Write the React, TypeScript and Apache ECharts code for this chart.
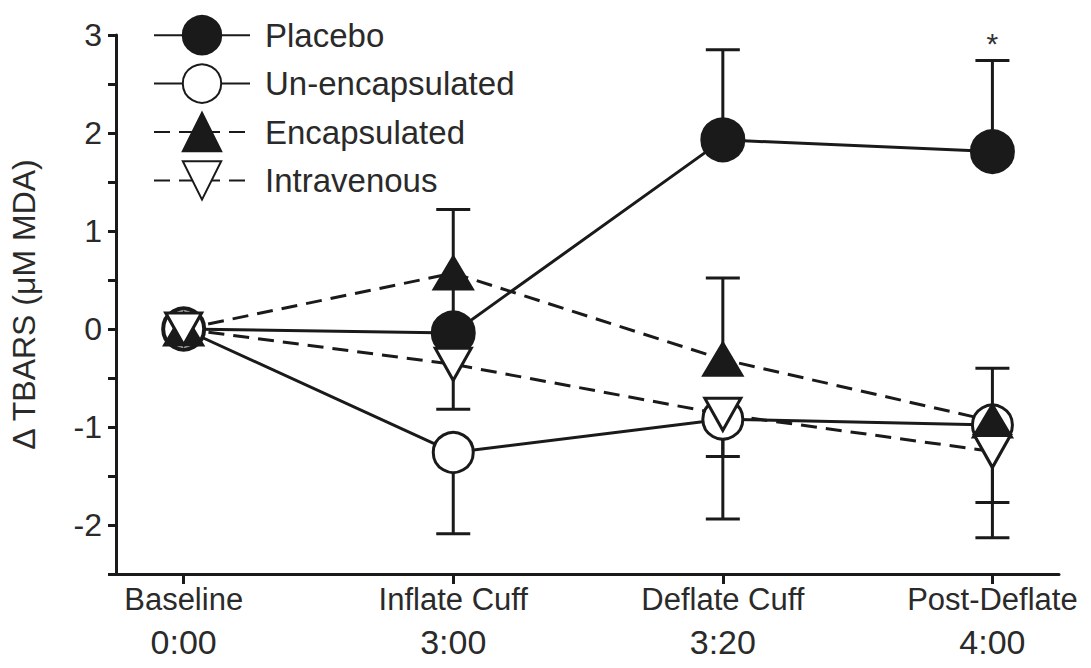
import { useEffect, useRef } from 'react';
import * as echarts from 'echarts';

const xPositions = [0, 1, 2, 3];
const xNames = ['Baseline', 'Inflate Cuff', 'Deflate Cuff', 'Post-Deflate'];
const xTimes = ['0:00', '3:00', '3:20', '4:00'];
const yLabelTicks = [-2, -1, 0, 1, 2, 3];
const seriesNames = ['Placebo', 'Un-encapsulated', 'Encapsulated', 'Intravenous'];

const placebo = [0, -0.04, 1.93, 1.81];
const unencapsulated = [0, -1.26, -0.92, -0.98];
const encapsulated = [0, 0.57, -0.31, -0.94];
const intravenous = [0, -0.36, -0.87, -1.25];

// error bar lengths (direction: +1 up, -1 down)
const placeboErr = [0, 1.26, 0.92, 0.93];
const unencapsulatedErr = [0, 0.83, 1.02, 1.15];
const encapsulatedErr = [0, 0, 0.83, 0.54];
const intravenousErr = [0, 0.46, 0.43, 0.52];
const errDirections = [1, -1, 1, -1];
const placeboSignificance = ['', '', '', '*'];

const INK = '#1a1a1a';
const TEXT = '#2a2a2a';
const FONT = 'Liberation Sans, Arial, Helvetica, sans-serif';

export default function App() {
  const ref = useRef<HTMLDivElement>(null);
  useEffect(() => {
    document.body.style.margin = '0';
    if (!ref.current) return;
    const chart = echarts.init(ref.current, null, { renderer: 'svg' });
    const values = [placebo, unencapsulated, encapsulated, intravenous];
    const errs = [placeboErr, unencapsulatedErr, encapsulatedErr, intravenousErr];
    const symbols = ['circle', 'circle', 'triangle', 'triangle'];
    const sizes: any[] = [42, 40, [38, 32], [36, 32]];
    const rotates = [0, 0, 0, 180];
    const fills = [INK, '#ffffff', INK, '#ffffff'];
    const dashed = [false, false, true, true];

    const errSeries = values.map((vals, si) => ({
      type: 'custom',
      z: 1,
      silent: true,
      data: xPositions.map((x, i) => [x, vals[i], errs[si][i], errDirections[si]]),
      encode: { x: 0, y: 1 },
      renderItem: (params: any, api: any) => {
        const x = api.value(0);
        const y = api.value(1);
        const e = api.value(2);
        const dir = api.value(3);
        const children: any[] = [];
        if (e > 0) {
          const p0 = api.coord([x, y]);
          const p1 = api.coord([x, y + dir * e]);
          const st = { stroke: INK, lineWidth: 3 };
          children.push({ type: 'line', shape: { x1: p0[0], y1: p0[1], x2: p1[0], y2: p1[1] }, style: st });
          children.push({ type: 'line', shape: { x1: p1[0] - 17, y1: p1[1], x2: p1[0] + 17, y2: p1[1] }, style: st });
          if (si === 0 && placeboSignificance[params.dataIndex]) {
            children.push({
              type: 'text',
              x: p1[0],
              y: p1[1] - 2,
              style: {
                text: placeboSignificance[params.dataIndex],
                fontSize: 30,
                fontFamily: FONT,
                fill: '#333',
                align: 'center',
                verticalAlign: 'bottom',
              },
            });
          }
        }
        return { type: 'group', children };
      },
    }));

    const lineSeries = values.map((vals, si) => ({
      name: seriesNames[si],
      type: 'line',
      z: 3,
      data: xPositions.map((x, i) => [x, vals[i]]),
      symbol: symbols[si],
      symbolSize: sizes[si],
      symbolRotate: rotates[si],
      showAllSymbol: true,
      lineStyle: { color: INK, width: 3, type: dashed[si] ? [16, 9] : 'solid' },
      itemStyle: { color: fills[si], borderColor: INK, borderWidth: 3, opacity: 1 },
      emphasis: { disabled: true },
    }));

    chart.setOption({
      animation: false,
      backgroundColor: '#ffffff',
      grid: { left: 112, right: 32, top: 35, bottom: 94, containLabel: false },
      legend: {
        orient: 'vertical',
        left: 148,
        top: 10,
        itemWidth: 96,
        itemHeight: 48,
        itemGap: 8,
        selectedMode: false,
        data: seriesNames,
        textStyle: { fontSize: 33, fontFamily: FONT, color: TEXT, padding: [0, 0, 0, 10] },
      },
      xAxis: {
        type: 'value',
        min: -0.251,
        max: 3.247,
        axisLine: { show: true, onZero: false, lineStyle: { color: INK, width: 3 } },
        axisTick: { show: true, customValues: xPositions, length: 10, lineStyle: { color: INK, width: 3 } },
        axisLabel: {
          show: true,
          customValues: xPositions,
          formatter: (v: number) => {
            const i = Math.round(v);
            return `{a|${xNames[i]}}\n{b|${xTimes[i]}}`;
          },
          fontFamily: FONT,
          color: TEXT,
          margin: 5,
          rich: {
            a: { fontSize: 31, lineHeight: 40, fontFamily: FONT, color: TEXT },
            b: { fontSize: 34, lineHeight: 46, fontFamily: FONT, color: TEXT },
          },
        },
        splitLine: { show: false },
      },
      yAxis: {
        type: 'value',
        min: -2.5,
        max: 3,
        interval: 0.5,
        name: '\u0394 TBARS (\u03bcM MDA)',
        nameLocation: 'middle',
        nameRotate: 90,
        nameGap: 76,
        nameTextStyle: { fontSize: 32, fontFamily: FONT, color: TEXT },
        axisLine: { show: true, onZero: false, lineStyle: { color: INK, width: 3 } },
        axisTick: { show: true, length: 8, lineStyle: { color: INK, width: 3 } },
        axisLabel: {
          customValues: yLabelTicks,
          formatter: (v: number) => String(v),
          fontSize: 32,
          fontFamily: FONT,
          color: TEXT,
          margin: 14,
        },
        splitLine: { show: false },
      },
      series: [...errSeries, ...lineSeries],
    });
    return () => chart.dispose();
  }, []);
  return <div ref={ref} style={{ width: 1091, height: 668 }} />;
}
